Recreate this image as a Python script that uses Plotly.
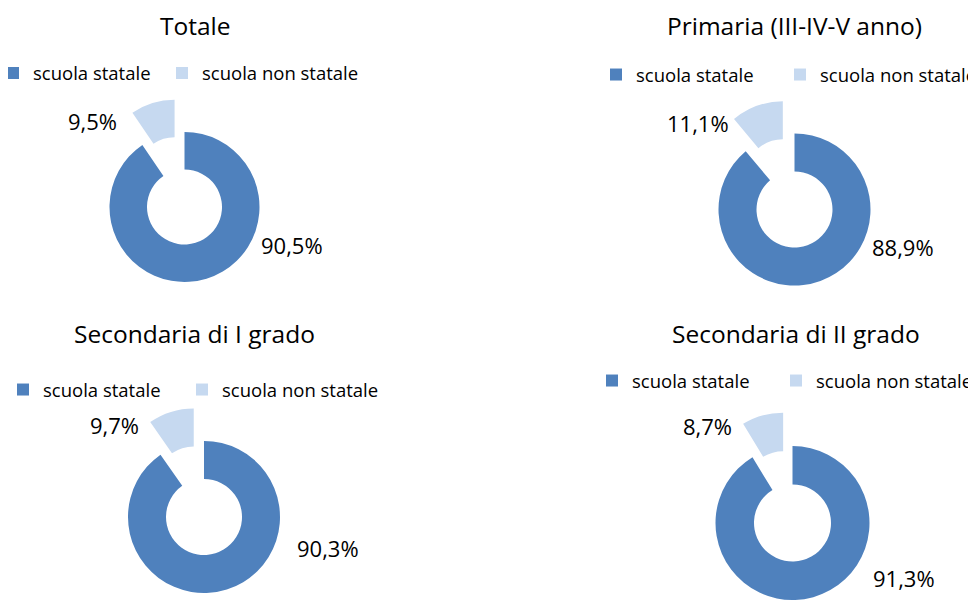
import math
import plotly.graph_objects as go

# ---------------- data ----------------
panel_titles = ["Totale", "Primaria (III-IV-V anno)",
                "Secondaria di I grado", "Secondaria di II grado"]
categories = ["scuola statale", "scuola non statale"]
statale = [90.5, 88.9, 90.3, 91.3]
non_statale = [9.5, 11.1, 9.7, 8.7]

# ---------------- layout / style ----------------
PAGE_W, PAGE_H = 976, 600
OFF = 8                      # default page (body) margin of the html page
W, H = PAGE_W - OFF, PAGE_H - OFF
FONT = "Open Sans"
COL_DARK = "#4F81BD"
COL_LIGHT = "#C6D9F0"
TRANSPARENT = "rgba(0,0,0,0)"
HOLE = 0.5
PULL = 0.45            # explode distance of the small slice, fraction of radius

# donut centres and radii (page px)
centers = [(184.5, 207), (794.5, 209.5), (204, 517), (792.5, 523)]
radii = [75, 76, 76, 77]
# title centres (page px)
title_pos = [(195.5, 25), (794.5, 25.5), (194.5, 333), (796, 333)]
# legend: x of first text start, y centre (page px)
legend_pos = [(27, 73.5), (636, 75), (43, 390), (632, 381)]
# label centres (page px): [statale, non statale]
label_pos = [[(292, 245), (92.5, 120.5)],
             [(903, 247.5), (698, 123)],
             [(328, 547.5), (114.5, 424.5)],
             [(903.5, 578), (707, 426)]]
ITEM_W = [139, 160]     # legend entry widths (px)


def px_x(x):
    return (x - OFF) / W


def px_y(y):
    return 1 - (y - OFF) / H


def clamp(v):
    return max(0.0, min(1.0, v))


def dom(cx, cy, r):
    return dict(x=[clamp(px_x(cx - r)), clamp(px_x(cx + r))],
                y=[clamp(px_y(cy + r)), clamp(px_y(cy - r))])


def fmt(v):
    return f"{v:.1f}".replace(".", ",") + "%"


fig = go.Figure()
annotations = []

for i, title in enumerate(panel_titles):
    vals = [statale[i], non_statale[i]]
    cx, cy = centers[i]
    r = radii[i]
    common = dict(labels=categories, values=vals, hole=HOLE, sort=False,
                  direction="clockwise", rotation=0, textinfo="none",
                  showlegend=False, marker_line_width=0,
                  hovertemplate="%{label}: %{value:.1f}%<extra>" + title + "</extra>")
    # main ring (large slice)
    fig.add_trace(go.Pie(domain=dom(cx, cy, r),
                         marker_colors=[COL_DARK, TRANSPARENT], **common))
    # exploded small slice, shifted along its bisector
    total = sum(vals)
    theta = 2 * math.pi * (vals[0] + vals[1] / 2) / total
    d = PULL * r
    bx = cx + d * math.sin(theta)
    by = cy - d * math.cos(theta)
    fig.add_trace(go.Pie(domain=dom(bx, by, r),
                         marker_colors=[TRANSPARENT, COL_LIGHT], **common))

    # legend entries
    lname = "legend" if i == 0 else f"legend{i + 1}"
    for cat, col, iw in zip(categories, [COL_DARK, COL_LIGHT], ITEM_W):
        fig.add_trace(go.Scatter(x=[None], y=[None], mode="markers", name=cat,
                                 marker=dict(symbol="square", size=12, color=col),
                                 legend=lname, showlegend=True, hoverinfo="skip",
                                 legendwidth=iw))
    lx, ly = legend_pos[i]
    left = lx - 40
    indent = 0
    if left < OFF:
        indent = max(-15, left - OFF)
        left = OFF
    fig.update_layout({lname: dict(orientation="h", x=px_x(left), xanchor="left",
                                   xref="container", yref="container",
                                   y=px_y(ly), yanchor="middle", indentation=indent,
                                   font=dict(family=FONT, size=18.5, color="#000000"),
                                   entrywidthmode="pixels",
                                   bgcolor=TRANSPARENT, borderwidth=0,
                                   itemsizing="trace")})

    # title
    tx, ty = title_pos[i]
    annotations.append(dict(text=title, x=px_x(tx), y=px_y(ty), xref="paper", yref="paper",
                            xanchor="center", yanchor="middle", showarrow=False,
                            font=dict(family=FONT, size=24.5, color="#000000")))
    # value labels
    for v, (lxp, lyp) in zip(vals, label_pos[i]):
        annotations.append(dict(text=fmt(v), x=px_x(lxp), y=px_y(lyp), xref="paper",
                                yref="paper", xanchor="center", yanchor="middle",
                                showarrow=False,
                                font=dict(family=FONT, size=22, color="#000000")))

fig.update_layout(width=W, height=H, margin=dict(l=0, r=0, t=0, b=0, autoexpand=False),
                  paper_bgcolor="white", plot_bgcolor="white",
                  xaxis=dict(visible=False), yaxis=dict(visible=False),
                  font=dict(family=FONT), annotations=annotations)

fig.write_html("out.html")
